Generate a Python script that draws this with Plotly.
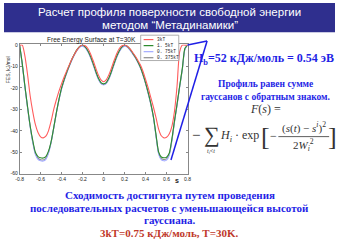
import plotly.graph_objects as go

W, H = 339, 243

s_vals = [round(-0.8 + 0.025 * i, 3) for i in range(65)]

series_names = ["3kT", "1.5kT", "0.75kT", "0.375kT"]
series_colors = ["#ff5c5c", "#2e8b2e", "#a3abff", "#8c8c8c"]

fes_3kT = [0, 0, -5, -13.5, -23.5, -31, -37, -40.8, -42.8, -43.3, -42.5, -40, -35.5, -30, -25.5, -21.5,
           -18, -14.8, -11.8, -9, -6.3, -4, -2, -0.6, 0, -0.3, -1.6, -4, -7.2, -10.7, -13.9, -16.2,
           -17.1,
           -16.2, -13.9, -10.7, -7.2, -4, -1.6, -0.3, 0, -0.5, -1.6, -3.2, -5, -7, -9.2, -12.2,
           -16, -20, -24.5, -29, -34, -39.3, -42.3, -43.3, -43, -41.5, -38, -31, -19, -3, 0, 0, 0]

fes_1_5kT = [0, -8.5, -19, -28.5, -37.5, -44.5, -50, -52, -52.6, -52.7, -52, -49.5, -45, -38.5, -31.5, -25.3,
             -20, -16, -12.5, -9.3, -6.4, -3.9, -1.9, -0.5, -0.1, -0.8, -2.6, -5.2, -8.5, -12.2, -15.4, -17.5,
             -18.1,
             -17.5, -15.4, -12.2, -8.5, -5.2, -2.6, -0.8, -0.1, -0.5, -1.8, -3.6, -5.4, -7.6, -10.2, -13.6,
             -17.6, -22.2, -27.3, -33.5, -42, -50, -52.2, -52.6, -52.3, -50.5, -44, -35.5, -27.5, -19, -11, -1.5, 0]

fes_0_75kT = [0, -9, -19.5, -29, -38, -45.5, -51, -53.3, -54, -54.1, -53.3, -50.5, -45.5, -38.8, -31.8, -25.6,
              -20.4, -16.4, -12.9, -9.7, -6.8, -4.3, -2.3, -0.9, -0.5, -1.3, -3.1, -5.8, -9.1, -12.8, -16, -18,
              -18.6,
              -18, -16, -12.8, -9.1, -5.8, -3.1, -1.3, -0.5, -0.9, -2.2, -4, -5.8, -8, -10.6, -14,
              -18, -22.6, -27.7, -34, -42.8, -51, -53.5, -54, -53.7, -51.5, -45, -36, -28, -19.5, -11.5, -2, 0]

fes_0_375kT = [0, -8.8, -19.2, -28.8, -37.8, -45, -50.5, -52.8, -53.5, -53.6, -52.8, -50, -45.3, -38.6, -31.6, -25.5,
               -20.2, -16.2, -12.7, -9.5, -6.6, -4.1, -2.1, -0.7, -0.3, -1.1, -2.9, -5.5, -8.8, -12.5, -15.7, -17.8,
               -18.4,
               -17.8, -15.7, -12.5, -8.8, -5.5, -2.9, -1.1, -0.3, -0.7, -2, -3.8, -5.6, -7.8, -10.4, -13.8,
               -17.8, -22.4, -27.5, -33.8, -42.4, -50.5, -53, -53.4, -53.1, -51, -44.5, -35.8, -27.8, -19.2, -11.2, -1.8, 0]

series_values = [fes_3kT, fes_1_5kT, fes_0_75kT, fes_0_375kT]
draw_order = [3, 2, 1, 0]

x_ticks = [-0.8, -0.6, -0.4, -0.2, 0, 0.2, 0.4, 0.6, 0.8]
x_ticktext = ["-0.8", "-0.6", "-0.4", "-0.2", "0", "0.2", "0.4", "0.6", "0.8"]
y_ticks = [0, -10, -20, -30, -40, -50, -60]
y_ticktext = ["0", "-10", "-20", "-30", "-40", "-50", "-60"]

title_lines = ["Расчет профиля поверхности свободной энергии", "методом “Метадинамики”"]
chart_title = "Free Energy Surface at T=30K"
y_label = "FES, kJ/mol"
x_label = "s"
hb_text = "H<sub>b</sub>=52 кДж/моль = 0.54 эВ"
profile_lines = ["Профиль равен сумме", "гауссанов с обратным знаком."]
bottom_lines = ["Сходимость достигнута путем проведения",
                "последовательных расчетов с уменьшающейся высотой",
                "гауссиана."]
bottom_red = "3kT=0.75 кДж/моль, T=30K."


def px(x):
    return x / W


def py(y):
    return 1 - y / H


fig = go.Figure()
for k in draw_order:
    fig.add_trace(go.Scatter(x=s_vals, y=series_values[k], mode="lines", name=series_names[k],
                             line=dict(color=series_colors[k], width=1.1, shape="spline", smoothing=0.7),
                             showlegend=False))

shapes = []
annotations = []

# header band
shapes.append(dict(type="rect", xref="paper", yref="paper", x0=0, x1=1, y0=py(30), y1=1,
                   fillcolor="#2f2f8e", line=dict(width=0), layer="below"))
for i, t in enumerate(title_lines):
    annotations.append(dict(text=t, xref="paper", yref="paper", x=px(170), y=py(9.5 + 13 * i),
                            showarrow=False, xanchor="center", yanchor="middle",
                            font=dict(family="Liberation Sans", size=11.5, color="white")))

# chart title
annotations.append(dict(text=chart_title, xref="paper", yref="paper", x=px(90), y=py(37.5),
                        showarrow=False, xanchor="center", yanchor="middle",
                        font=dict(family="Liberation Sans", size=6.5, color="#222")))
# axis labels
annotations.append(dict(text=y_label, xref="paper", yref="paper", x=px(4), y=py(68),
                        showarrow=False, textangle=-90, xanchor="center", yanchor="middle",
                        font=dict(family="Liberation Sans", size=5, color="#222")))
annotations.append(dict(text="<b>" + x_label + "</b>", xref="paper", yref="paper", x=px(177), y=py(182),
                        showarrow=False, xanchor="center", yanchor="middle",
                        font=dict(family="Liberation Sans", size=7, color="#222")))

# manual legend
lx0, ly0, lx1, ly1 = 140, 33, 179, 59
shapes.append(dict(type="rect", xref="paper", yref="paper", x0=px(lx0), x1=px(lx1), y0=py(ly1), y1=py(ly0),
                   fillcolor="white", line=dict(color="#999", width=0.8)))
for i, (name, col) in enumerate(zip(series_names, series_colors)):
    yy = 37.5 + 6.2 * i
    shapes.append(dict(type="line", xref="paper", yref="paper", x0=px(143), x1=px(153), y0=py(yy), y1=py(yy),
                       line=dict(color=col, width=1.2)))
    annotations.append(dict(text=name.replace(".", ". "), xref="paper", yref="paper", x=px(155), y=py(yy),
                            showarrow=False, xanchor="left", yanchor="middle",
                            font=dict(family="Liberation Mono", size=4.5, color="#222")))

# blue pointer lines
blue = "#1f1fe6"
shapes.append(dict(type="line", xref="paper", yref="paper", x0=px(188), y0=py(43), x1=px(208), y1=py(39),
                   line=dict(color=blue, width=1.5)))
shapes.append(dict(type="line", xref="paper", yref="paper", x0=px(208), y0=py(39), x1=px(171), y1=py(161),
                   line=dict(color=blue, width=1.5)))

annotations.append(dict(text="<b>" + hb_text + "</b>", xref="paper", yref="paper", x=px(266), y=py(57),
                        showarrow=False, xanchor="center", yanchor="middle",
                        font=dict(family="Liberation Serif", size=12, color=blue)))
for i, t in enumerate(profile_lines):
    annotations.append(dict(text="<b>" + t + "</b>", xref="paper", yref="paper", x=px(268), y=py(83 + 13 * i),
                            showarrow=False, xanchor="center", yanchor="middle",
                            font=dict(family="Liberation Serif", size=9.5, color=blue)))

# formula
fc = "#333333"
ff = "Liberation Serif"


def ann(t, x, y, size, anchor="center", color=fc):
    annotations.append(dict(text=t, xref="paper", yref="paper", x=px(x), y=py(y), showarrow=False,
                            xanchor=anchor, yanchor="middle", font=dict(family=ff, size=size, color=color)))


ann("<i>F</i>(<i>s</i>) =", 268, 109, 12)
ann("−", 197, 135, 15, color="#222")
ann("∑", 213, 135, 22)
ann("<i>t<sub>i</sub></i><<i>t</i>", 212, 152, 6)
ann("<i>H<sub>i</sub></i> · exp", 241, 136, 12)
ann("[", 268, 137, 26)
ann("−", 276, 136, 12)
ann("(<i>s</i>(<i>t</i>) − <i>s<sup>i</sup></i>)<sup>2</sup>", 307, 128, 11)
shapes.append(dict(type="line", xref="paper", yref="paper", x0=px(281), x1=px(333), y0=py(137), y1=py(137),
                   line=dict(color=fc, width=0.8)))
ann("2<i>W</i><sub><i>i</i></sub><sup>2</sup>", 307, 146, 11)
ann("]", 336, 137, 26)

for i, t in enumerate(bottom_lines):
    ann("<b>" + t + "</b>", 170, 197 + 13 * i, 11, color=blue)
ann("<b>" + bottom_red + "</b>", 170, 235.5, 11, color="#c0392b")

axis_common = dict(showgrid=False, zeroline=False, showline=True, linecolor="#888", linewidth=0.8,
                   mirror="ticks", ticks="inside", ticklen=2, tickcolor="#888",
                   tickfont=dict(family="Liberation Sans", size=5, color="#222"))

fig.update_layout(
    width=W, height=H, margin=dict(l=0, r=0, t=0, b=0),
    paper_bgcolor="white", plot_bgcolor="white",
    xaxis=dict(domain=[px(16), px(188)], range=[-0.8, 0.8], tickvals=x_ticks, ticktext=x_ticktext,
               **axis_common),
    yaxis=dict(domain=[py(175), py(42.5)], range=[-60, 0.3], tickvals=y_ticks, ticktext=y_ticktext,
               **axis_common),
    shapes=shapes, annotations=annotations, showlegend=False,
)

fig.write_html("out.html")
